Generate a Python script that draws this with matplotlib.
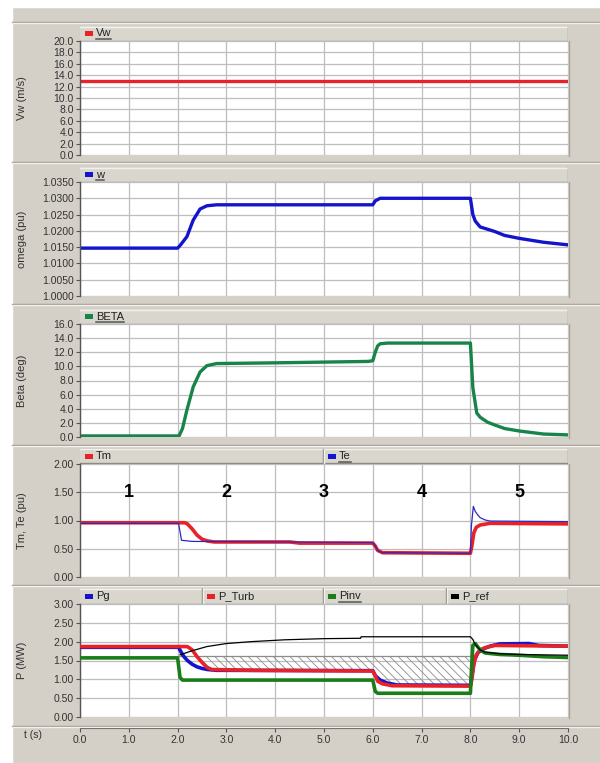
import numpy as np
import matplotlib.pyplot as plt
from matplotlib.patches import Rectangle
from matplotlib.lines import Line2D

plt.rcParams['font.family'] = ['Liberation Sans', 'DejaVu Sans']
plt.rcParams['hatch.linewidth'] = 0.6

# ---- data ----
t_vw = [0.0, 10.0]
vw = [13.0, 13.0]

t_w = [0, 2.0, 2.05, 2.19, 2.32, 2.46, 2.6, 2.8, 6.0, 6.05, 6.15, 8.0, 8.05, 8.1, 8.2, 8.5, 8.7, 9.0, 9.5, 10.0]
w = [1.0147, 1.0147, 1.0155, 1.0182, 1.0233, 1.0267, 1.0277, 1.0280, 1.0280, 1.0292, 1.0300,
     1.0300, 1.0250, 1.0230, 1.0212, 1.0198, 1.0186, 1.0177, 1.0165, 1.0157]

t_beta = [0, 2.03, 2.1, 2.19, 2.32, 2.46, 2.6, 2.8, 4.0, 5.9, 6.0, 6.05, 6.1, 6.15, 6.3,
          8.0, 8.05, 8.13, 8.2, 8.35, 8.5, 8.7, 9.0, 9.5, 10.0]
beta = [0.15, 0.15, 1.2, 3.8, 7.1, 9.2, 10.1, 10.4, 10.5, 10.7, 10.8, 12.0, 12.9, 13.2, 13.3,
        13.3, 7.0, 3.4, 2.8, 2.1, 1.7, 1.2, 0.85, 0.42, 0.3]

t_tm = [0, 2.15, 2.2, 2.3, 2.4, 2.5, 2.6, 2.75, 4.3, 4.5, 6.0, 6.05, 6.1, 6.2,
        8.0, 8.03, 8.07, 8.12, 8.2, 8.4, 10.0]
tm = [0.96, 0.96, 0.94, 0.85, 0.74, 0.67, 0.64, 0.62, 0.62, 0.60, 0.60, 0.55, 0.47, 0.43,
      0.42, 0.55, 0.78, 0.88, 0.92, 0.95, 0.94]

t_te = [0, 2.02, 2.05, 2.08, 2.3, 6.0, 6.05, 6.1, 6.2, 8.0, 8.02, 8.06, 8.1, 8.15, 8.2, 8.3, 8.4, 10.0]
te = [0.95, 0.95, 0.80, 0.65, 0.63, 0.61, 0.55, 0.47, 0.43, 0.42, 0.90, 1.25, 1.16, 1.10, 1.05, 1.01, 0.99, 0.98]

t_pg = [0, 2.02, 2.06, 2.12, 2.2, 2.3, 2.4, 2.5, 2.62, 2.8, 6.0, 6.05, 6.15, 6.3, 6.5,
        8.0, 8.03, 8.08, 8.15, 8.25, 8.4, 8.6, 9.2, 9.4, 10.0]
pg = [1.85, 1.85, 1.75, 1.62, 1.50, 1.40, 1.33, 1.29, 1.26, 1.24, 1.23, 1.10, 0.98, 0.90, 0.85,
      0.84, 1.10, 1.50, 1.70, 1.80, 1.88, 1.94, 1.95, 1.90, 1.88]

t_pt = [0, 2.2, 2.3, 2.4, 2.5, 2.6, 2.7, 3.5, 6.0, 6.05, 6.1, 6.2, 6.4,
        8.0, 8.03, 8.07, 8.12, 8.2, 8.3, 8.5, 10.0]
p_turb = [1.87, 1.87, 1.78, 1.60, 1.45, 1.32, 1.26, 1.24, 1.22, 1.10, 0.95, 0.88, 0.83,
          0.82, 1.00, 1.40, 1.65, 1.78, 1.84, 1.90, 1.88]

t_pinv = [0, 2.0, 2.05, 2.1, 6.0, 6.05, 6.1, 8.0, 8.02, 8.05, 8.1, 8.2, 8.3, 8.6, 9.0, 9.5, 10.0]
p_inv = [1.57, 1.57, 1.05, 0.98, 0.98, 0.68, 0.63, 0.63, 1.20, 1.90, 1.95, 1.78, 1.70, 1.66, 1.64, 1.60, 1.58]

t_pref = [2.05, 2.3, 2.6, 3.0, 3.5, 4.2, 5.0, 5.75, 5.76, 8.0, 8.05, 8.1, 8.2, 8.3, 8.6, 9.0, 10.0]
p_ref = [1.65, 1.76, 1.87, 1.95, 2.00, 2.05, 2.08, 2.09, 2.13, 2.13, 2.06, 1.92, 1.78, 1.72, 1.68, 1.66, 1.64]

p_band = 1.62        # top of hatched band
zones = ['1', '2', '3', '4', '5']
zone_t = [1.0, 3.0, 5.0, 7.0, 9.0]
x_ticks = np.arange(0, 10.01, 1.0)

# ---- layout helpers (pixel coords, y from top) ----
W, H = 600, 763
BG = '#d4d0c8'
fig = plt.figure(figsize=(6, 7.63), dpi=100, facecolor=BG)


def rect(x0, y0, x1, y1):
    return [x0 / W, 1 - y1 / H, (x1 - x0) / W, (y1 - y0) / H]


def hline(y, x0, x1, color, lw=1.0):
    fig.add_artist(Line2D([x0 / W, x1 / W], [1 - y / H, 1 - y / H], color=color, lw=lw))


def vline(x, y0, y1, color, lw=1.0):
    fig.add_artist(Line2D([x / W, x / W], [1 - y0 / H, 1 - y1 / H], color=color, lw=lw))


# white border strips
fig.add_artist(Rectangle((0, 0), 12 / W, 1, transform=fig.transFigure, color='white', zorder=0))
fig.add_artist(Rectangle((0, 1 - 7 / H), 1, 7 / H, transform=fig.transFigure, color='white', zorder=0))

# panel separators
for ys in [22, 162, 304, 445, 585, 726]:
    hline(ys, 12, 600, '#9c988f')
    hline(ys + 1.2, 12, 600, '#f4f2ee')

X0, X1 = 80, 568
renderer = fig.canvas.get_renderer()


def header(y0, y1, entries, splits):
    hax = fig.add_axes(rect(X0, y0, X1, y1))
    hax.set_xlim(X0, X1)
    hax.set_ylim(y1, y0)
    hax.axis('off')
    hax.add_patch(Rectangle((X0, y0), X1 - X0, y1 - y0, facecolor='#d9d6ce', edgecolor='none'))
    hax.plot([X0, X1], [y0 + 0.5, y0 + 0.5], color='#f2f0eb', lw=1)
    hax.plot([X0, X1], [y1 - 0.5, y1 - 0.5], color='#8e8a82', lw=1)
    hax.plot([X1 - 0.5, X1 - 0.5], [y0, y1], color='#8e8a82', lw=1)
    for s in splits:
        hax.plot([s, s], [y0, y1], color='#8e8a82', lw=1)
        hax.plot([s + 1, s + 1], [y0, y1], color='#f2f0eb', lw=1)
    ym = (y0 + y1) / 2
    for xs, name, col, ul in entries:
        hax.add_patch(Rectangle((xs + 5, ym - 2.5), 8, 5, facecolor=col, edgecolor='none'))
        txt = hax.text(xs + 16, ym, name, fontsize=8, color='#222222', va='center', ha='left')
        if ul:
            bb = txt.get_window_extent(renderer=renderer)
            hax.plot([xs + 16, xs + 16 + bb.width], [ym + 5.5, ym + 5.5], color='#555555', lw=1.1)
    return hax


def panel(y0, y1, ylim, yticks, fmt, ylabel):
    ax = fig.add_axes(rect(X0, y0, X1, y1))
    ax.set_facecolor('white')
    ax.set_xlim(0, 10)
    ax.set_ylim(*ylim)
    ax.set_xticks(x_ticks)
    ax.set_yticks(yticks)
    ax.set_yticklabels([fmt.format(v) for v in yticks])
    ax.grid(True, color='#bdbdbd', lw=0.9)
    ax.set_axisbelow(True)
    ax.tick_params(axis='x', bottom=False, labelbottom=False)
    ax.tick_params(axis='y', direction='out', length=3, width=0.8, color='#555555',
                   labelsize=7.5, labelcolor='#333333', pad=1.5)
    for side in ['top', 'right', 'bottom']:
        ax.spines[side].set_visible(False)
    ax.spines['left'].set_color('#555555')
    ax.spines['left'].set_linewidth(1.0)
    fig.text(22 / W, 1 - ((y0 + y1) / 2) / H, ylabel, rotation=90, ha='center', va='center',
             fontsize=8, color='#333333')
    vline(X1 + 0.5, y0, y1 + 1, '#a8a49c')
    return ax


RED = '#e82228'
BLUE = '#1414cc'
GREEN = '#17844a'
GREEN2 = '#1a7d1a'

# panel 1: wind speed
header(26, 41, [(X0, 'Vw', RED, True)], [])
ax1 = panel(41, 155, (0, 20), np.arange(0, 20.1, 2), '{:.1f}', 'Vw (m/s)')
ax1.plot(t_vw, vw, color=RED, lw=2.4)

# panel 2: rotor speed
header(167, 182, [(X0, 'w', BLUE, True)], [])
ax2 = panel(182, 296, (1.0, 1.035), np.linspace(1.0, 1.035, 8), '{:.4f}', 'omega (pu)')
ax2.plot(t_w, w, color=BLUE, lw=2.4)

# panel 3: pitch angle
header(309, 324, [(X0, 'BETA', GREEN, True)], [])
ax3 = panel(324, 437, (0, 16), np.arange(0, 16.1, 2), '{:.1f}', 'Beta (deg)')
ax3.plot(t_beta, beta, color=GREEN, lw=2.4)

# panel 4: torques
header(449, 464, [(X0, 'Tm', RED, False), (323, 'Te', BLUE, True)], [323])
ax4 = panel(464, 577, (0, 2), np.arange(0, 2.01, 0.5), '{:.2f}', 'Tm, Te (pu)')
ax4.plot(t_tm, tm, color=RED, lw=2.6)
ax4.plot(t_te, te, color='#2a2ac0', lw=0.9)
for z, tz in zip(zones, zone_t):
    ax4.text(tz, 1.5, z, ha='center', va='center', fontsize=13, fontweight='bold', color='black')

# panel 5: powers
header(588, 604, [(X0, 'Pg', BLUE, False), (202, 'P_Turb', RED, False),
                  (323, 'Pinv', GREEN2, True), (446, 'P_ref', 'black', False)], [202, 323, 446])
ax5 = panel(604, 717, (0, 3), np.arange(0, 3.01, 0.5), '{:.2f}', 'P (MW)')
tp = np.array(t_pt)
pt = np.array(p_turb)
sel = (tp >= 2.0) & (tp <= 8.0)
ax5.fill_between(tp, p_band, np.minimum(pt, p_band), where=sel, facecolor='none',
                 edgecolor='#8c8c8c', hatch='\\\\\\\\', linewidth=0, zorder=2)
ax5.plot([2.0, 8.0], [p_band, p_band], color='#8c8c8c', lw=0.9, zorder=2)
ax5.plot(t_pg, pg, color=BLUE, lw=2.6, zorder=3)
ax5.plot(t_pt, p_turb, color=RED, lw=2.6, zorder=3)
ax5.plot(t_pinv, p_inv, color=GREEN2, lw=2.6, zorder=3)
ax5.plot(t_pref, p_ref, color='black', lw=0.9, zorder=4)

# time axis
axt = fig.add_axes(rect(X0, 727, X1, 728))
axt.set_xlim(0, 10)
axt.set_facecolor('none')
axt.set_yticks([])
axt.set_xticks(x_ticks)
axt.set_xticklabels(['{:.1f}'.format(v) for v in x_ticks])
for side in ['top', 'right', 'left']:
    axt.spines[side].set_visible(False)
axt.spines['bottom'].set_color('#555555')
axt.tick_params(axis='x', direction='out', length=3, color='#555555', labelsize=7.5,
                labelcolor='#333333', pad=2)
fig.text(33 / W, 1 - 735 / H, 't (s)', ha='center', va='center', fontsize=7.5, color='#333333')

fig.savefig('out.png', dpi=100, facecolor=fig.get_facecolor())
